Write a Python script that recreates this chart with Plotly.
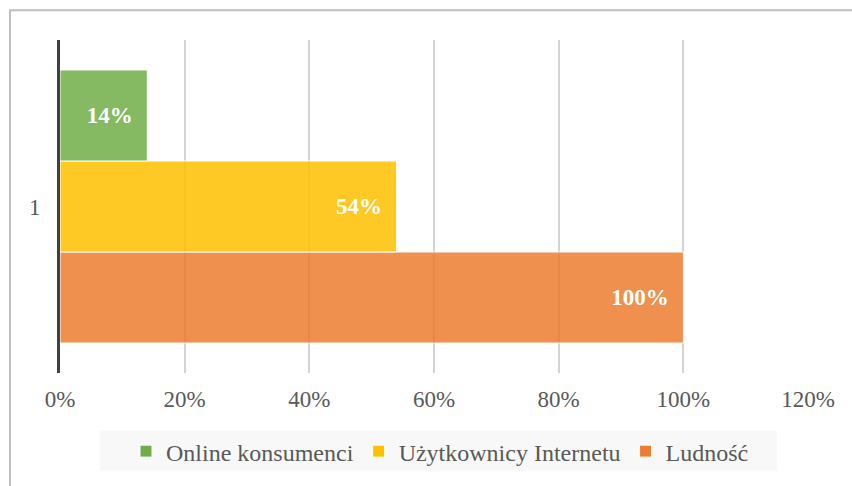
import plotly.graph_objects as go

categories = ["1"]
series_names = ["Ludność", "Użytkownicy Internetu", "Online konsumenci"]
series_values = [[1.00], [0.54], [0.14]]
series_colors = ["#ED7D31", "#FFC000", "#70AD47"]
x_tick_values = [0, 0.2, 0.4, 0.6, 0.8, 1.0, 1.2]
x_tick_labels = ["0%", "20%", "40%", "60%", "80%", "100%", "120%"]

PLOT_L, PLOT_R, PLOT_T, PLOT_B = 60, 808, 40, 375
W, H = 852, 486


def px_x(px):
    return (px - PLOT_L) / (PLOT_R - PLOT_L)


def px_y(py):
    return (PLOT_B - py) / (PLOT_B - PLOT_T)


fig = go.Figure()
for name, vals, col in zip(series_names, series_values, series_colors):
    fig.add_trace(go.Bar(
        y=categories,
        x=vals,
        name=name,
        orientation="h",
        marker=dict(color=col, opacity=0.85, line=dict(color="white", width=1)),
        texttemplate="%{x:.0%}\u00a0\u00a0",
        textposition="inside",
        insidetextanchor="end",
        textangle=0,
        textfont=dict(family="Liberation Serif", size=23, color="white", weight="bold"),
        hoverinfo="skip",
    ))

fig.update_layout(
    width=W, height=H,
    margin=dict(l=PLOT_L, r=W - PLOT_R, t=PLOT_T, b=H - PLOT_B),
    paper_bgcolor="white",
    plot_bgcolor="white",
    barmode="group",
    bargap=0.18,
    bargroupgap=0,
    font=dict(family="Liberation Serif", color="#595959", size=22),
    showlegend=True,
    legend=dict(
        orientation="h",
        traceorder="reversed",
        x=px_x(440), xanchor="center",
        y=px_y(454), yanchor="middle",
        bgcolor="rgba(0,0,0,0)",
        font=dict(family="Liberation Serif", size=24, color="#595959"),
        itemwidth=30,
    ),
    xaxis=dict(
        range=[0, 1.2],
        tickvals=x_tick_values,
        ticktext=x_tick_labels,
        showgrid=True,
        gridcolor="#d4d4d4",
        gridwidth=2,
        zeroline=False,
        showline=False,
        ticks="",
        ticklabelstandoff=10,
        tickfont=dict(family="Liberation Serif", size=23, color="#595959"),
        fixedrange=True,
    ),
    yaxis=dict(
        type="category",
        showgrid=False,
        zeroline=False,
        showline=True,
        linecolor="#404040",
        linewidth=3,
        ticks="",
        ticklabelstandoff=12,
        tickfont=dict(family="Liberation Serif", size=23, color="#595959"),
        fixedrange=True,
    ),
    shapes=[
        dict(type="rect", xref="paper", yref="paper",
             x0=px_x(100), x1=px_x(777), y0=px_y(473), y1=px_y(433),
             fillcolor="#f8f8f8", line=dict(width=0), layer="below"),
        dict(type="rect", xref="paper", yref="paper",
             x0=px_x(10), x1=px_x(900), y0=px_y(540), y1=px_y(10),
             fillcolor="rgba(0,0,0,0)", line=dict(color="#bfbfbf", width=2), layer="above"),
    ],
)

fig.write_html("out.html")
